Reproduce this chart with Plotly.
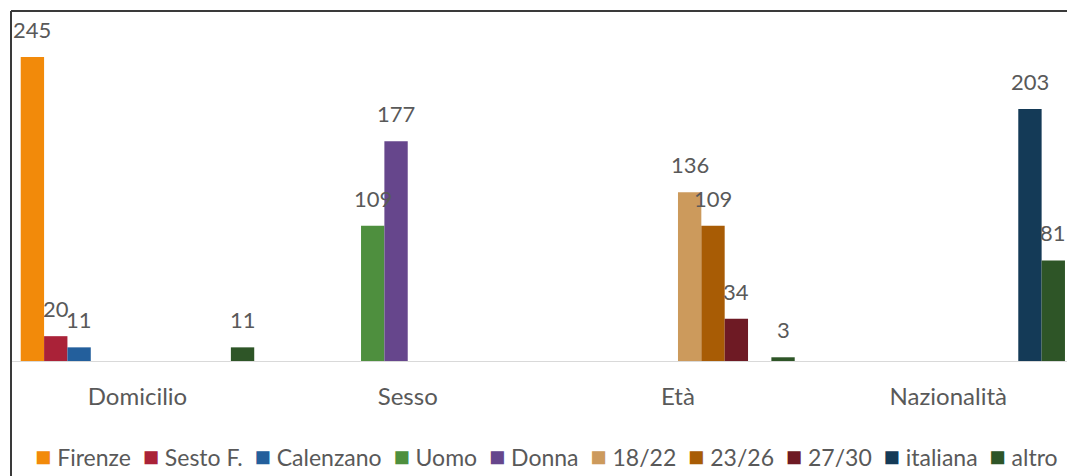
import plotly.graph_objects as go

# Categories on the x axis
categories = ["Domicilio", "Sesso", "Età", "Nazionalità"]

# One series per answer; None where a series has no value in that category
series_names = ["Firenze", "Sesto F.", "Calenzano", "Uomo", "Donna",
                "18/22", "23/26", "27/30", "italiana", "altro"]
firenze = [245, None, None, None]
sesto = [20, None, None, None]
calenzano = [11, None, None, None]
uomo = [None, 109, None, None]
donna = [None, 177, None, None]
eta_18_22 = [None, None, 136, None]
eta_23_26 = [None, None, 109, None]
eta_27_30 = [None, None, 34, None]
italiana = [None, None, None, 203]
altro = [11, None, 3, 81]

series_values = [firenze, sesto, calenzano, uomo, donna,
                 eta_18_22, eta_23_26, eta_27_30, italiana, altro]
series_colors = ["#F28A0A", "#AA2238", "#235F9C", "#4E8F3E", "#66468C",
                 "#CC9A5C", "#A85C05", "#6E1A24", "#143A57", "#2E5527"]

FONT = "Lato"
TEXT_GREY = "#595959"
BARGAP = 0.136

# The chart runs on past the right edge of the visible page
FIG_W, FIG_H = 1080, 476
MARGIN_L, MARGIN_T, MARGIN_B = 11, 11, 115
PX_PER_CAT = 270.25
X_START = -0.468
X_END = X_START + (FIG_W - MARGIN_L) / PX_PER_CAT

x_idx = list(range(len(categories)))
n_series = len(series_names)
slot = (1 - BARGAP) / n_series

fig = go.Figure()
annotations = []
for k, (name, vals, col) in enumerate(zip(series_names, series_values, series_colors)):
    fig.add_trace(go.Bar(
        name=name, x=x_idx, y=vals, marker_color=col,
        marker_line_width=0, showlegend=False,
        hovertemplate=name + ": %{y}<extra></extra>",
    ))
    # value labels above each bar
    offset = -(1 - BARGAP) / 2 + (k + 0.5) * slot
    for i, v in enumerate(vals):
        if v is None:
            continue
        annotations.append(dict(
            x=i + offset, y=v, xref="x", yref="y", text=str(v),
            showarrow=False, yanchor="bottom", yshift=12,
            font=dict(family=FONT, size=22, color=TEXT_GREY),
        ))

# Legend line: coloured squares followed by the series name
legend_text = "&nbsp;&nbsp;".join(
    f"<span style='color:{c};font-size:27px'>■</span>&nbsp;{n}"
    for n, c in zip(series_names, series_colors)
)
annotations.append(dict(
    x=(546 - MARGIN_L) / (FIG_W - MARGIN_L), y=-0.271,
    xref="paper", yref="paper", text=legend_text,
    showarrow=False, xanchor="center", yanchor="middle",
    font=dict(family=FONT, size=23, color=TEXT_GREY),
))

fig.update_layout(
    width=FIG_W, height=FIG_H,
    margin=dict(l=MARGIN_L, r=0, t=MARGIN_T, b=MARGIN_B),
    paper_bgcolor="white", plot_bgcolor="white",
    barmode="group", bargap=BARGAP, bargroupgap=0,
    font=dict(family=FONT, color=TEXT_GREY),
    annotations=annotations,
    xaxis=dict(
        range=[X_START, X_END], tickmode="array", tickvals=x_idx,
        ticktext=categories, showgrid=False, zeroline=False,
        showline=True, linecolor="#D9D9D9", linewidth=1,
        ticks="outside", ticklen=0, ticklabelstandoff=14,
        tickfont=dict(family=FONT, size=24, color=TEXT_GREY),
    ),
    yaxis=dict(range=[0, 282.07], visible=False, showgrid=False,
               zeroline=False, showline=False),
    shapes=[
        dict(type="line", xref="paper", yref="paper", x0=0, x1=1, y0=1, y1=1,
             line=dict(color="#3A3A3A", width=2)),
        dict(type="line", xref="paper", yref="paper", x0=0, x1=0, y0=1, y1=-0.36,
             line=dict(color="#3A3A3A", width=2)),
    ],
)

# keep the page free of scrollbars around the fixed-size figure
fig.write_html("out.html",
               post_script="document.documentElement.style.overflow='hidden';"
                           "document.body.style.margin='0';"
                           "document.body.style.overflow='hidden';")
